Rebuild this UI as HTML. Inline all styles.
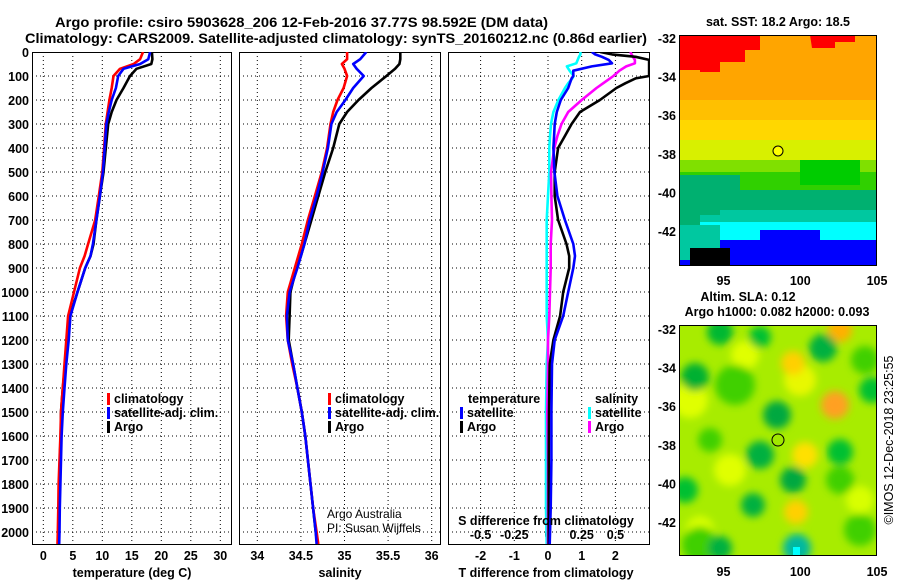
<!DOCTYPE html>
<html><head><meta charset="utf-8">
<style>
html,body{margin:0;padding:0;background:#fff;}
svg{display:block;font-family:"Liberation Sans",Arial,sans-serif;}
.b{font-weight:bold;font-size:12.5px;}
</style></head>
<body>
<svg id="chart" width="900" height="580" viewBox="0 0 900 580" xmlns="http://www.w3.org/2000/svg">
<defs>
<clipPath id="c1"><rect x="32" y="52" width="200" height="493"/></clipPath>
<clipPath id="c2"><rect x="239" y="52" width="202" height="493"/></clipPath>
<clipPath id="c3"><rect x="448" y="52" width="202" height="493"/></clipPath>
<clipPath id="m1"><rect x="679" y="35" width="198" height="231"/></clipPath>
<clipPath id="m2"><rect x="679" y="325" width="198" height="231"/></clipPath>
<filter id="bl" x="-50%" y="-50%" width="200%" height="200%"><feGaussianBlur stdDeviation="4"/></filter>
</defs>
<text x="55" y="27" class="b" textLength="493" lengthAdjust="spacingAndGlyphs" style="font-size:14px">Argo profile: csiro 5903628_206 12-Feb-2016 37.77S 98.592E (DM data)</text>
<text x="25" y="43" class="b" textLength="622" lengthAdjust="spacingAndGlyphs" style="font-size:14px">Climatology: CARS2009. Satellite-adjusted climatology: synTS_20160212.nc (0.86d earlier)</text>
<g id="panels"></g>
<g id="maps"></g>
</svg>
<script>
// ---------- data ----------
const depths = [0,30,50,70,100,150,200,250,300,400,500,600,700,800,850,900,1000,1100,1200,1300,1400,1500,1600,1700,1800,1900,2000,2050];
const tempArgo = [18.4,18.5,18.3,15.8,14.7,13.6,12.4,11.6,11.0,10.6,10.2,9.6,9.0,8.5,8.0,7.1,5.8,4.5,4.1,3.7,3.3,3.0,2.95,2.8,2.7,2.65,2.55,2.5];
const tempClim = [16.9,16.4,15.3,13.0,11.9,11.6,11.2,10.9,10.6,10.3,10.0,9.4,8.8,7.6,7.0,6.2,5.2,4.2,3.9,3.6,3.3,3.0,2.9,2.75,2.6,2.55,2.45,2.4];
const tempSat = [18.1,17.8,16.4,13.6,12.7,12.3,11.6,11.1,10.7,10.4,10.1,9.6,9.0,8.4,8.0,7.1,5.8,4.6,4.3,3.9,3.6,3.3,3.1,3.0,2.9,2.8,2.75,2.7];
const salArgo = [35.64,35.64,35.63,35.58,35.48,35.31,35.16,35.03,34.94,34.87,34.78,34.70,34.62,34.54,34.50,34.45,34.38,34.37,34.36,34.41,34.46,34.51,34.55,34.58,34.61,34.64,34.67,34.69];
const salClim = [35.03,35.03,34.97,35.0,35.03,34.99,34.92,34.87,34.84,34.80,34.74,34.66,34.58,34.51,34.47,34.43,34.35,34.33,34.35,34.40,34.46,34.51,34.55,34.58,34.61,34.64,34.68,34.70];
const salSat = [35.25,35.18,35.10,35.14,35.22,35.10,35.01,34.91,34.85,34.81,34.75,34.68,34.60,34.54,34.50,34.46,34.37,34.34,34.35,34.41,34.46,34.51,34.55,34.58,34.61,34.64,34.67,34.68];
const diffDepths = [0,10,20,33,47,60,78,100,110,130,150,200,250,300,350,400,500,600,700,800,850,900,1000,1100,1200,1300,1500,1700,1900,2050];
const tDiffSat = [1.3,1.4,1.6,1.8,1.9,1.3,0.75,0.75,0.7,0.65,0.6,0.38,0.26,0.2,0.18,0.16,0.19,0.28,0.5,0.75,0.8,0.75,0.6,0.45,0.2,0.12,0.1,0.1,0.08,0.05];
const tDiffArgo = [1.55,1.9,2.6,3.0,3.0,3.0,3.0,3.0,2.6,2.3,2.03,1.54,0.95,0.7,0.5,0.3,0.2,0.2,0.3,0.55,0.63,0.63,0.45,0.36,0.16,0.05,0.03,0.02,0.02,0.02];
const sDiffArgo = [0.61,0.62,0.63,0.645,0.645,0.58,0.53,0.485,0.46,0.41,0.36,0.25,0.15,0.10,0.07,0.047,0.022,0.025,0.03,0.02,0.02,0.02,0.015,0.01,0,0,-0.005,0,0,0];
const sDiffSat = [0.24,0.24,0.23,0.22,0.21,0.14,0.16,0.19,0.18,0.15,0.126,0.077,0.04,0.022,0.015,0.01,0.01,0.0,-0.01,-0.01,-0.01,-0.01,-0.01,-0.01,0.0,-0.01,-0.015,-0.015,-0.015,-0.01];
const depthTicks = [0,100,200,300,400,500,600,700,800,900,1000,1100,1200,1300,1400,1500,1600,1700,1800,1900,2000];
const tempTicks = [0,5,10,15,20,25,30];
const salTicks = [34,34.5,35,35.5,36];
const tDiffTicks = [-2,-1,0,1,2];
const sDiffTicks = [-0.5,-0.25,0,0.25,0.5];
const lonTicks = [95,100,105];
const latTicks = [-32,-34,-36,-38,-40,-42];

// ---------- scales ----------
const NS = "http://www.w3.org/2000/svg";
const yD = d => 52 + 0.24*d;
const xT = t => 43.3 + 5.9*t;
const xS = s => 257.3 + 87.2*(s-34);
const xTd = v => 548 + 33.7*v;
const xSd = v => 548 + 134.8*v;
const lonX = l => 679 + (l-92.1)*15.35;
const latY1 = la => 38 + (-32-la)*19.3;
const latY2 = la => 329 + (-32-la)*19.3;

function el(tag, attrs, parent){ const e=document.createElementNS(NS,tag); for(const k in attrs) e.setAttribute(k,attrs[k]); parent.appendChild(e); return e; }
function txt(s, attrs, parent){ const e=el('text',attrs,parent); e.textContent=s; return e; }

const P = document.getElementById('panels');

const panels = [
  {x:32,w:200,xs:tempTicks,fx:xT,name:'temperature-panel'},
  {x:239,w:202,xs:salTicks,fx:xS,name:'salinity-panel'},
  {x:448,w:202,xs:tDiffTicks,fx:xTd,name:'difference-panel'}
];

panels.forEach((p,i)=>{
  const g = el('g',{},P);
  
  
  depthTicks.forEach(d=>{
    if(d===0) return;
    const l = el('line',{x1:p.x,x2:p.x+p.w,y1:yD(d),y2:yD(d),stroke:'#000','stroke-width':1,'stroke-dasharray':'1 3'},g);
    
    
  });
  p.xs.forEach(v=>{
    const l = el('line',{x1:p.fx(v),x2:p.fx(v),y1:52,y2:545,stroke:'#000','stroke-width':1,'stroke-dasharray':'1 3'},g);
    
    
  });
  const r = el('rect',{x:p.x+0.5,y:52.5,width:p.w-1,height:492,fill:'none',stroke:'#000','stroke-width':1},g);
  
  
});

depthTicks.forEach(d=>{
  const t = txt(String(d),{x:29,y:yD(d)+5,'text-anchor':'end',class:'b'},P);
  
  
});
tempTicks.forEach(v=>{
  const t = txt(String(v),{x:xT(v),y:560,'text-anchor':'middle',class:'b'},P);
  
  
});
salTicks.forEach(v=>{
  const t = txt(String(v),{x:xS(v),y:560,'text-anchor':'middle',class:'b'},P);
  
  
});
tDiffTicks.forEach(v=>{
  const t = txt(String(v),{x:xTd(v),y:560,'text-anchor':'middle',class:'b'},P);
  
  
});
sDiffTicks.forEach(v=>{
  const t = txt(String(v),{x:xSd(v),y:539,'text-anchor':'middle',class:'b'},P);
  
  
});

function profile(vals, dep, fx, color, clip, name){
  let d='';
  vals.forEach((v,i)=>{ d += (i?'L':'M')+fx(v).toFixed(1)+','+yD(dep[i]).toFixed(1); });
  const p = el('path',{d:d,fill:'none',stroke:color,'stroke-width':2.6,'stroke-linejoin':'round','clip-path':'url(#'+clip+')'},P);
  
  
}
profile(tempArgo,depths,xT,'#000','c1','temp-argo-line');
profile(tempClim,depths,xT,'#f00','c1','temp-climatology-line');
profile(tempSat,depths,xT,'#00f','c1','temp-satellite-line');
profile(salArgo,depths,xS,'#000','c2','sal-argo-line');
profile(salClim,depths,xS,'#f00','c2','sal-climatology-line');
profile(salSat,depths,xS,'#00f','c2','sal-satellite-line');
profile(sDiffSat,diffDepths,xSd,'#0ff','c3','s-diff-satellite-line');
profile(sDiffArgo,diffDepths,xSd,'#f0f','c3','s-diff-argo-line');
profile(tDiffArgo,diffDepths,xTd,'#000','c3','t-diff-argo-line');
profile(tDiffSat,diffDepths,xTd,'#00f','c3','t-diff-satellite-line');

function legend(x,y,color,label,name){
  const r = el('rect',{x:x,y:y-10,width:3,height:12,fill:color},P);
  
  
  const t = txt(label,{x:x+7,y:y,class:'b'},P);
  
  
}
legend(107,403,'#f00','climatology','legend-temp-climatology');
legend(107,417,'#00f','satellite-adj. clim.','legend-temp-satellite');
legend(107,431,'#000','Argo','legend-temp-argo');
legend(328,403,'#f00','climatology','legend-sal-climatology');
legend(328,417,'#00f','satellite-adj. clim.','legend-sal-satellite');
legend(328,431,'#000','Argo','legend-sal-argo');
legend(460,417,'#00f','satellite','legend-tdiff-satellite');
legend(460,431,'#000','Argo','legend-tdiff-argo');
legend(588,417,'#0ff','satellite','legend-sdiff-satellite');
legend(588,431,'#f0f','Argo','legend-sdiff-argo');
[['temperature',468,403,'legend-title-temperature'],['salinity',595,403,'legend-title-salinity']].forEach(a=>{
  const t = txt(a[0],{x:a[1],y:a[2],class:'b'},P);
  
  
});
[['temperature (deg C)',132,577,'x-axis-title-temperature'],['salinity',340,577,'x-axis-title-salinity'],['T difference from climatology',546,577,'x-axis-title-t-diff'],['S difference from climatology',546,525,'axis-title-s-diff']].forEach(a=>{
  const t = txt(a[0],{x:a[1],y:a[2],'text-anchor':'middle',class:'b'},P);
  
  
});
const c1 = txt('Argo Australia',{x:327,y:518,'font-size':'12px'},P);


const c2 = txt('PI: Susan Wijffels',{x:327,y:532,'font-size':'12px'},P);



// ---------- maps ----------
const M = document.getElementById('maps');
const g1 = el('g',{'clip-path':'url(#m1)'},M);


const sstBands = [[35,'#ffa500',110],[100,'#ffc000',25],[120,'#ffd700',22],[140,'#d8f000',22],[160,'#80e000',14],[172,'#30d000',20],[190,'#00b070',22],[210,'#00c8a0',14],[222,'#00ffff',22],[240,'#0000ff',30]];
sstBands.forEach(b=>{ el('rect',{x:679,y:b[0],width:198,height:b[2],fill:b[1]},g1); });
el('path',{d:'M679,35 H760 V50 H745 V62 H720 V72 H700 V70 H679 Z',fill:'#f00'},g1);
el('path',{d:'M810,35 H855 V42 H835 V48 H812 Z',fill:'#f00'},g1);
el('path',{d:'M679,175 H740 V200 H720 V215 H679 Z',fill:'#00b070'},g1);
el('path',{d:'M800,160 H860 V185 H800 Z',fill:'#00cc00'},g1);
el('path',{d:'M679,200 H700 V235 H679 Z',fill:'#00b070'},g1);
el('path',{d:'M760,230 H820 V250 H760 Z',fill:'#0000ff'},g1);
el('path',{d:'M679,225 H720 V260 H679 Z',fill:'#00c8a0'},g1);
el('path',{d:'M690,248 H730 V266 H690 Z',fill:'#000'},g1);
el('path',{d:'M820,225 H877 V240 H820 Z',fill:'#00ffff'},g1);
el('circle',{cx:778,cy:151,r:5,fill:'#ff0',stroke:'#000','stroke-width':1},M);
el('rect',{x:679.5,y:35.5,width:197,height:230,fill:'none',stroke:'#000'},M);

const g2 = el('g',{'clip-path':'url(#m2)'},M);


el('rect',{x:679,y:325,width:198,height:231,fill:'#a8ec00'},g2);
const gb = el('g',{filter:'url(#bl)'},g2);
[[690,400,18,'#e0ff00'],[730,470,16,'#e0ff00'],[860,500,14,'#d8ff00'],[745,355,14,'#e0ff00'],[800,380,16,'#e8f800'],[700,530,14,'#d8ff00'],[840,330,12,'#ffb000'],[835,405,14,'#ffa020'],[793,363,12,'#ffd000'],[805,455,13,'#ffe000'],[796,512,12,'#ffd000'],
 [735,385,20,'#40d000'],[700,545,18,'#40d000'],[860,530,16,'#40d000'],[865,360,14,'#40d000'],[710,440,12,'#40d000'],[840,480,14,'#40d000'],
 [695,377,14,'#00b030'],[777,415,14,'#00a840'],[760,455,14,'#00b040'],[793,480,13,'#00a840'],[753,505,12,'#00b040'],[823,348,14,'#00b040'],[720,332,13,'#00b830'],[760,337,11,'#00c030'],[840,452,13,'#00c030'],[685,490,13,'#00c030'],[872,390,13,'#00c030'],[797,548,14,'#00b8a0'],[720,548,12,'#00b040']].forEach(b=>{
  el('circle',{cx:b[0],cy:b[1],r:b[2],fill:b[3]},gb);
});
el('rect',{x:793,y:547,width:7,height:9,fill:'#00ffff'},g2);
el('circle',{cx:778,cy:440,r:6,fill:'#a0e800',stroke:'#000','stroke-width':1},M);
el('rect',{x:679.5,y:325.5,width:197,height:230,fill:'none',stroke:'#000'},M);

latTicks.forEach(la=>{
  let t = txt(String(la),{x:676,y:latY1(la)+5,'text-anchor':'end',class:'b'},M);
  
  
  t = txt(String(la),{x:676,y:latY2(la)+5,'text-anchor':'end',class:'b'},M);
  
  
});
lonTicks.forEach(lo=>{
  let t = txt(String(lo),{x:lonX(lo),y:285,'text-anchor':'middle',class:'b'},M);
  
  
  t = txt(String(lo),{x:lonX(lo),y:576,'text-anchor':'middle',class:'b'},M);
  
  
});
[['sat. SST: 18.2 Argo: 18.5',778,26,'sst-map-title'],['Altim. SLA: 0.12',748,301,'sla-map-title'],['Argo h1000: 0.082 h2000: 0.093',777,316,'sla-map-subtitle']].forEach(a=>{
  const t = txt(a[0],{x:a[1],y:a[2],'text-anchor':'middle',class:'b'},M);
  
  
});
const st = txt('©IMOS 12-Dec-2018 23:25:55',{x:0,y:0,'text-anchor':'middle','font-size':'12.5px',transform:'translate(893,440) rotate(-90)'},M);


</script>
</body></html>
